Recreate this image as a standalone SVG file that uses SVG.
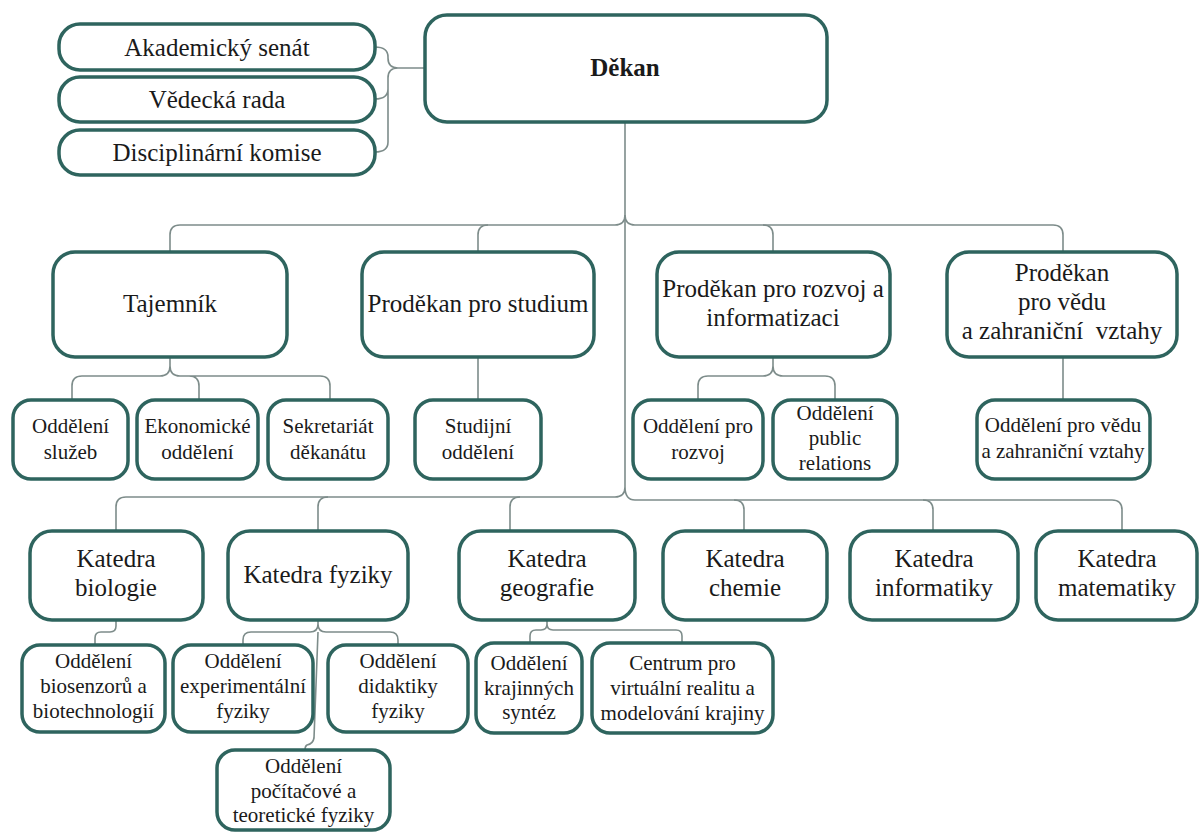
<svg xmlns="http://www.w3.org/2000/svg" width="1201" height="833" viewBox="0 0 1201 833">
<style>
.b{fill:#ffffff;stroke:#2e645e;stroke-width:3.5}
.c{fill:none;stroke:#7d8c8a;stroke-width:1.6}
text{font-family:"Liberation Serif","Times New Roman",serif;fill:#1a1a1a;text-anchor:middle}
.l{font-size:25px}
.s{font-size:21px}
.k{font-size:25px;font-weight:bold}
</style>
<rect width="1201" height="833" fill="#ffffff"/>
<g id="connectors">
<path class="c" d="M375,47 Q388,47 388,57 V58 Q388,68 398,68 H425 M398,68 Q388,68 388,78 V89 Q388,99 375,99 M388,89 V142 Q388,152 375,152"/>
<path class="c" d="M625,122 V487 Q625,497 615,497 H126 Q116,497 116,507 V531 M625,487 Q625,500 635,500 H1112 Q1122,500 1122,510 V530"/>
<path class="c" d="M170,252 V235 Q170,225 180,225 H615 Q625,225 625,215 Q625,225 635,225 H1053 Q1063,225 1063,235 V252"/>
<path class="c" d="M478,252 V235 Q478,225 488,225 M773,252 V235 Q773,225 763,225"/>
<path class="c" d="M170,357 V366 Q170,376 160,376 H82 Q72,376 72,386 V400 M170,366 Q170,376 180,376 H320 Q330,376 330,386 V400 M199,400 V386 Q199,376 189,376"/>
<path class="c" d="M478,357 V400 M1063,357 V400"/>
<path class="c" d="M773,357 V366 Q773,376 763,376 H708 Q698,376 698,386 V400 M773,366 Q773,376 783,376 H825 Q835,376 835,386 V400"/>
<path class="c" d="M318,531 V507 Q318,497 328,497 M510,531 V507 Q510,497 520,497 M744,531 V510 Q744,500 734,500 M933,530 V510 Q933,500 923,500"/>
<path class="c" d="M116,620 V626 Q116,632 110,632 H101 Q95,632 95,638 V645"/>
<path class="c" d="M318,620 V624 Q318,632 310,632 H251 Q243,632 243,640 V645 M318,624 Q318,632 326,632 H390 Q398,632 398,640 V645 M318,632 L314,738 Q313,744 307,745 Q305,746 305,750"/>
<path class="c" d="M547,620 V624 Q547,630 541,630 H536 Q530,630 530,636 V643 M547,624 Q547,630 553,630 H676 Q682,630 682,636 V643"/>
</g>
<g id="dekan"><rect class="b" x="425" y="15" width="402" height="107" rx="22"/><text class="k" x="625" y="76">Děkan</text></g>
<g id="akademicky-senat"><rect class="b" x="59" y="24" width="316" height="46" rx="21"/><text class="l" x="217" y="56">Akademický senát</text></g>
<g id="vedecka-rada"><rect class="b" x="59" y="77" width="316" height="45" rx="21"/><text class="l" x="217" y="108">Vědecká rada</text></g>
<g id="disciplinarni-komise"><rect class="b" x="59" y="130" width="316" height="45" rx="21"/><text class="l" x="217" y="161">Disciplinární komise</text></g>
<g id="tajemnik"><rect class="b" x="53" y="252" width="234" height="105" rx="22"/><text class="l" x="170" y="312">Tajemník</text></g>
<g id="prodekan-studium"><rect class="b" x="362" y="252" width="232" height="105" rx="22"/><text class="l" x="478" y="312">Proděkan pro studium</text></g>
<g id="prodekan-rozvoj"><rect class="b" x="657" y="252" width="233" height="105" rx="22"/><text class="l" x="773" y="297">Proděkan pro rozvoj a</text><text class="l" x="773" y="326">informatizaci</text></g>
<g id="prodekan-veda"><rect class="b" x="947" y="252" width="230" height="105" rx="22"/><text class="l" x="1062" y="281">Proděkan</text><text class="l" x="1062" y="310">pro vědu</text><text class="l" x="1062" y="339" style="white-space:pre">a zahraniční  vztahy</text></g>
<g id="oddeleni-sluzeb"><rect class="b" x="13" y="400" width="115" height="79" rx="18"/><text class="s" x="70.5" y="433">Oddělení</text><text class="s" x="70.5" y="459">služeb</text></g>
<g id="ekonomicke-oddeleni"><rect class="b" x="137" y="400" width="121" height="79" rx="18"/><text class="s" x="197.5" y="433">Ekonomické</text><text class="s" x="197.5" y="459">oddělení</text></g>
<g id="sekretariat"><rect class="b" x="268" y="400" width="120" height="79" rx="18"/><text class="s" x="328" y="433">Sekretariát</text><text class="s" x="328" y="459">děkanátu</text></g>
<g id="studijni-oddeleni"><rect class="b" x="415" y="400" width="126" height="79" rx="18"/><text class="s" x="478" y="433">Studijní</text><text class="s" x="478" y="459">oddělení</text></g>
<g id="oddeleni-rozvoj"><rect class="b" x="633" y="400" width="130" height="79" rx="18"/><text class="s" x="698" y="433">Oddělení pro</text><text class="s" x="698" y="459">rozvoj</text></g>
<g id="oddeleni-pr"><rect class="b" x="773" y="400" width="124" height="79" rx="18"/><text class="s" x="835" y="420">Oddělení</text><text class="s" x="835" y="445">public</text><text class="s" x="835" y="470">relations</text></g>
<g id="oddeleni-veda"><rect class="b" x="977" y="400" width="173" height="79" rx="18"/><text class="s" x="1063" y="432">Oddělení pro vědu</text><text class="s" x="1063" y="458">a zahraniční vztahy</text></g>
<g id="katedra-biologie"><rect class="b" x="30" y="531" width="173" height="89" rx="22"/><text class="l" x="116" y="567">Katedra</text><text class="l" x="116" y="596">biologie</text></g>
<g id="katedra-fyziky"><rect class="b" x="228" y="531" width="180" height="89" rx="22"/><text class="l" x="318" y="583">Katedra fyziky</text></g>
<g id="katedra-geografie"><rect class="b" x="459" y="531" width="176" height="89" rx="22"/><text class="l" x="547" y="567">Katedra</text><text class="l" x="547" y="596">geografie</text></g>
<g id="katedra-chemie"><rect class="b" x="663" y="531" width="164" height="89" rx="22"/><text class="l" x="745" y="567">Katedra</text><text class="l" x="745" y="596">chemie</text></g>
<g id="katedra-informatiky"><rect class="b" x="850" y="531" width="168" height="89" rx="22"/><text class="l" x="934" y="567">Katedra</text><text class="l" x="934" y="596">informatiky</text></g>
<g id="katedra-matematiky"><rect class="b" x="1036" y="531" width="161" height="89" rx="22"/><text class="l" x="1117" y="567">Katedra</text><text class="l" x="1117" y="596">matematiky</text></g>
<g id="oddeleni-biosenzoru"><rect class="b" x="22" y="645" width="143" height="87" rx="18"/><text class="s" x="93.5" y="668">Oddělení</text><text class="s" x="93.5" y="693">biosenzorů a</text><text class="s" x="93.5" y="718">biotechnologií</text></g>
<g id="oddeleni-experimentalni"><rect class="b" x="173" y="645" width="140" height="87" rx="18"/><text class="s" x="243" y="668">Oddělení</text><text class="s" x="243" y="693">experimentální</text><text class="s" x="243" y="718">fyziky</text></g>
<g id="oddeleni-didaktiky"><rect class="b" x="328" y="645" width="140" height="87" rx="18"/><text class="s" x="398" y="668">Oddělení</text><text class="s" x="398" y="693">didaktiky</text><text class="s" x="398" y="718">fyziky</text></g>
<g id="oddeleni-krajinnych"><rect class="b" x="476" y="643" width="106" height="90" rx="18"/><text class="s" x="529" y="670">Oddělení</text><text class="s" x="529" y="695">krajinných</text><text class="s" x="529" y="719">syntéz</text></g>
<g id="centrum"><rect class="b" x="592" y="643" width="181" height="90" rx="18"/><text class="s" x="682.5" y="670">Centrum pro</text><text class="s" x="682.5" y="695">virtuální realitu a</text><text class="s" x="682.5" y="720">modelování krajiny</text></g>
<g id="oddeleni-pocitacove"><rect class="b" x="217" y="750" width="173" height="80" rx="18"/><text class="s" x="303.5" y="773">Oddělení</text><text class="s" x="303.5" y="798">počítačové a</text><text class="s" x="303.5" y="822">teoretické fyziky</text></g>
</svg>
